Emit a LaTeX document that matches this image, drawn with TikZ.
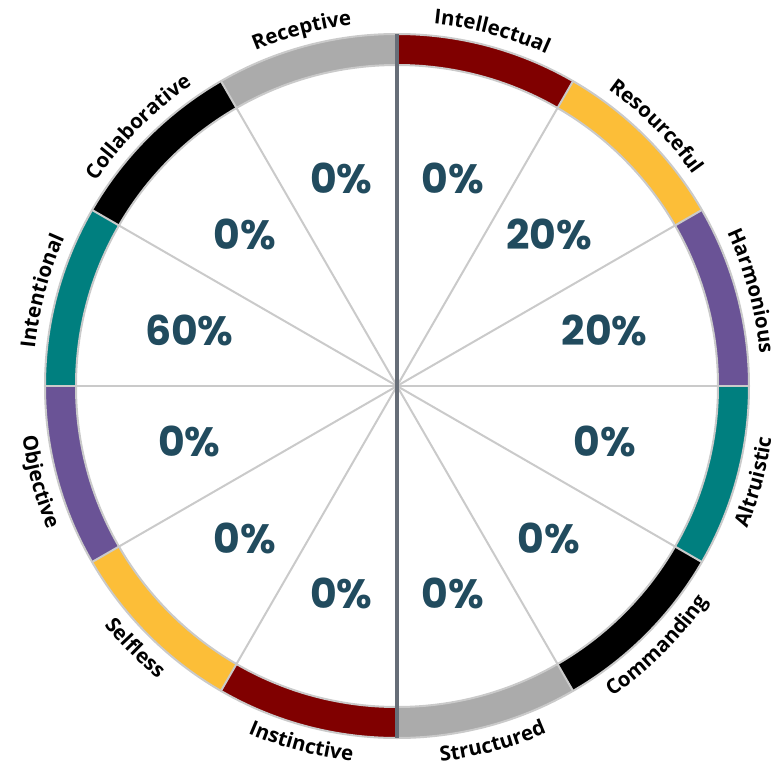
\documentclass[tikz,border=0pt]{standalone}
\usepackage{fontspec}
\setmainfont{Open Sans}
\newfontfamily\lblfamily[LetterSpace=8]{Open Sans}
\newfontfamily\pctfamily{Poppins}
\usetikzlibrary{decorations.text}
\definecolor{cRed}{HTML}{800000}
\definecolor{cYellow}{HTML}{FCBE38}
\definecolor{cPurple}{HTML}{6A5396}
\definecolor{cTeal}{HTML}{007F7F}
\definecolor{cBlack}{HTML}{000000}
\definecolor{cGrey}{HTML}{ABABAB}
\definecolor{ringgrey}{HTML}{CACACA}
\definecolor{axiscol}{HTML}{676E78}
\definecolor{pctcol}{HTML}{214B5E}
\newcommand{\lblfont}{\lblfamily\bfseries\fontsize{20.5}{22}\selectfont}
\begin{document}
\begin{tikzpicture}[
  spoke/.style={draw=ringgrey, line width=2pt},
  ringline/.style={draw=ringgrey, line width=2pt},
  axisline/.style={draw=axiscol, line width=3.5pt},
  pct/.style={font=\pctfamily\bfseries\fontsize{41}{43}\selectfont, text=pctcol, inner sep=0pt},
  toplabel/.style={decorate, decoration={text along path, text align=center, text={|\lblfont|#1}}},
  botlabel/.style={decorate, decoration={text along path, text align=center, text={|\lblfont|#1}}}
]
\useasboundingbox (-397pt,-378pt) rectangle (385pt,386pt);
\coordinate (c) at (0pt,0pt);
% ring segments
\foreach \a/\col in {60/cRed, 30/cYellow, 0/cPurple, -30/cTeal, -60/cBlack, -90/cGrey, -120/cRed, -150/cYellow, -180/cPurple, 150/cTeal, 120/cBlack, 90/cGrey}{
  \fill[\col] (\a:321pt) arc[start angle=\a, end angle=\a+30, radius=321pt]
     -- (\a+30:352pt) arc[start angle=\a+30, end angle=\a, radius=352pt] -- cycle;
}
% spokes
\foreach \a in {0,30,60,120,150,180,210,240,300,330}{
  \coordinate (s\a) at (\a:352pt);
  \draw[spoke] (c) -- (s\a);
}
\draw[ringline] (c) circle[radius=321pt];
\draw[ringline] (c) circle[radius=352pt];
% axis
\coordinate (top) at (90:352pt);
\coordinate (bot) at (270:352pt);
\draw[axisline] (top) -- (bot);
% percentages
\node[pct] (p1)  at (75:215pt)  {0\%};
\node[pct] (p2)  at (45:215pt)  {20\%};
\node[pct] (p3)  at (15:215pt)  {20\%};
\node[pct] (p4)  at (-15:215pt) {0\%};
\node[pct] (p5)  at (-45:215pt) {0\%};
\node[pct] (p6)  at (-75:215pt) {0\%};
\node[pct] (p7)  at (-105:215pt) {0\%};
\node[pct] (p8)  at (-135:215pt) {0\%};
\node[pct] (p9)  at (-165:215pt) {0\%};
\node[pct] (p10) at (165:215pt) {60\%};
\node[pct] (p11) at (135:215pt) {0\%};
\node[pct] (p12) at (105:215pt) {0\%};
% labels (top half: clockwise, baseline inside)
\path[toplabel=Intellectual]  (100:364pt) arc[start angle=100, end angle=50, radius=364pt];
\path[toplabel=Resourceful]   (70:364pt)  arc[start angle=70,  end angle=20, radius=364pt];
\path[toplabel=Harmonious]    (40:364pt)  arc[start angle=40,  end angle=-10, radius=364pt];
\path[toplabel=Receptive]     (130:364pt) arc[start angle=130, end angle=80, radius=364pt];
\path[toplabel=Collaborative] (160:364pt) arc[start angle=160, end angle=110, radius=364pt];
\path[toplabel=Intentional]   (190:364pt) arc[start angle=190, end angle=140, radius=364pt];
% labels (bottom half: counter-clockwise, baseline outside)
\path[botlabel=Altruistic]  (-40:378pt)  arc[start angle=-40,  end angle=10,  radius=378pt];
\path[botlabel=Commanding]  (-70:378pt)  arc[start angle=-70,  end angle=-20, radius=378pt];
\path[botlabel=Structured]  (-100:378pt) arc[start angle=-100, end angle=-50, radius=378pt];
\path[botlabel=Instinctive] (-130:378pt) arc[start angle=-130, end angle=-80, radius=378pt];
\path[botlabel=Selfless]    (-160:378pt) arc[start angle=-160, end angle=-110, radius=378pt];
\path[botlabel=Objective]   (-190:378pt) arc[start angle=-190, end angle=-140, radius=378pt];
\end{tikzpicture}
\end{document}
